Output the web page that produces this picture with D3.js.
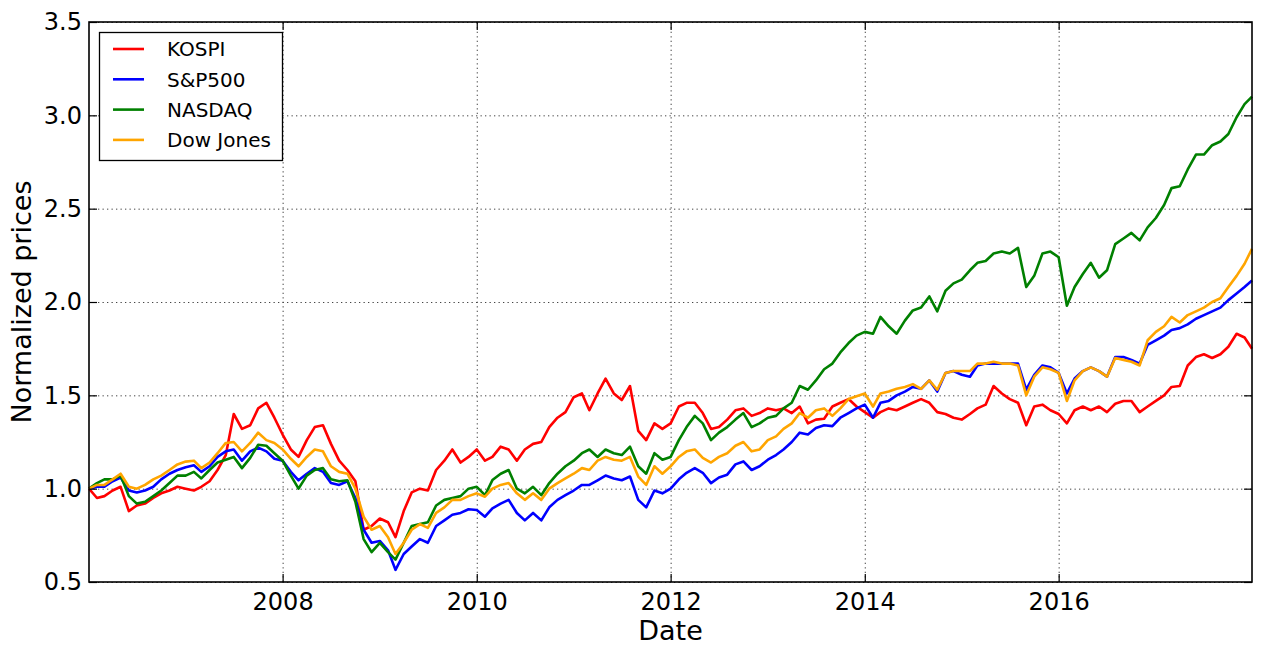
<!DOCTYPE html>
<html lang="en">
<head>
    <meta charset="utf-8">
    <title>Normalized prices</title>
    <style>
        body { margin: 0; background: #fff; }
        svg { display: block; font-family: 'DejaVu Sans', sans-serif; }
        .grid line { stroke: #444; stroke-width: 1; stroke-dasharray: 1.3,3.2; }
        .grid path { display: none; }
        .ticks path { display: none; }
        .ticks line { stroke: #000; stroke-width: 1.2; }
        .ticks text { font-size: 24px; fill: #000; }
    </style>
    <script src="https://d3js.org/d3.v7.min.js" charset="utf-8"></script>
</head>
<body>
<svg id="chart" width="1262" height="656"></svg>
<script type="text/javascript">
    // monthly readings (first trading day of each month) + last day
    var dates = [
        "2006-01-02","2006-02-01","2006-03-01","2006-04-01","2006-05-01","2006-06-01","2006-07-01","2006-08-01","2006-09-01","2006-10-01","2006-11-01","2006-12-01",
        "2007-01-01","2007-02-01","2007-03-01","2007-04-01","2007-05-01","2007-06-01","2007-07-01","2007-08-01","2007-09-01","2007-10-01","2007-11-01","2007-12-01",
        "2008-01-01","2008-02-01","2008-03-01","2008-04-01","2008-05-01","2008-06-01","2008-07-01","2008-08-01","2008-09-01","2008-10-01","2008-11-01","2008-12-01",
        "2009-01-01","2009-02-01","2009-03-01","2009-04-01","2009-05-01","2009-06-01","2009-07-01","2009-08-01","2009-09-01","2009-10-01","2009-11-01","2009-12-01",
        "2010-01-01","2010-02-01","2010-03-01","2010-04-01","2010-05-01","2010-06-01","2010-07-01","2010-08-01","2010-09-01","2010-10-01","2010-11-01","2010-12-01",
        "2011-01-01","2011-02-01","2011-03-01","2011-04-01","2011-05-01","2011-06-01","2011-07-01","2011-08-01","2011-09-01","2011-10-01","2011-11-01","2011-12-01",
        "2012-01-01","2012-02-01","2012-03-01","2012-04-01","2012-05-01","2012-06-01","2012-07-01","2012-08-01","2012-09-01","2012-10-01","2012-11-01","2012-12-01",
        "2013-01-01","2013-02-01","2013-03-01","2013-04-01","2013-05-01","2013-06-01","2013-07-01","2013-08-01","2013-09-01","2013-10-01","2013-11-01","2013-12-01",
        "2014-01-01","2014-02-01","2014-03-01","2014-04-01","2014-05-01","2014-06-01","2014-07-01","2014-08-01","2014-09-01","2014-10-01","2014-11-01","2014-12-01",
        "2015-01-01","2015-02-01","2015-03-01","2015-04-01","2015-05-01","2015-06-01","2015-07-01","2015-08-01","2015-09-01","2015-10-01","2015-11-01","2015-12-01",
        "2016-01-01","2016-02-01","2016-03-01","2016-04-01","2016-05-01","2016-06-01","2016-07-01","2016-08-01","2016-09-01","2016-10-01","2016-11-01","2016-12-01",
        "2017-01-01","2017-02-01","2017-03-01","2017-04-01","2017-05-01","2017-06-01","2017-07-01","2017-08-01","2017-09-01","2017-10-01","2017-11-01","2017-12-01",
        "2017-12-29"
    ];

    var kospi = [
        1.00, 0.95, 0.96, 0.99, 1.01, 0.88, 0.91, 0.92, 0.95, 0.975, 0.99, 1.01,
        1.00, 0.99, 1.01, 1.04, 1.10, 1.18, 1.40, 1.32, 1.34, 1.43, 1.46, 1.38,
        1.29, 1.21, 1.17, 1.26, 1.33, 1.34, 1.24, 1.15, 1.10, 1.04, 0.78, 0.80,
        0.84, 0.82, 0.74, 0.88, 0.98, 1.00, 0.99, 1.10, 1.15, 1.21, 1.14, 1.17,
        1.21, 1.15, 1.17, 1.225, 1.21, 1.15, 1.21, 1.24, 1.25, 1.33, 1.38, 1.41,
        1.49, 1.51, 1.42, 1.51, 1.59, 1.51, 1.475, 1.55, 1.31, 1.26, 1.35, 1.32,
        1.35, 1.44, 1.46, 1.46, 1.405, 1.32, 1.33, 1.37, 1.42, 1.43, 1.39, 1.405,
        1.43, 1.42, 1.43, 1.405, 1.44, 1.35, 1.37, 1.375, 1.44, 1.46, 1.48, 1.44,
        1.41, 1.38, 1.41, 1.43, 1.42, 1.44, 1.46, 1.48, 1.46, 1.41, 1.40, 1.38,
        1.37, 1.40, 1.43, 1.45, 1.55, 1.51, 1.48, 1.46, 1.34, 1.44, 1.45, 1.42,
        1.40, 1.35, 1.42, 1.44, 1.42, 1.44, 1.41, 1.455, 1.47, 1.47, 1.41, 1.44,
        1.47, 1.50, 1.545, 1.55, 1.66, 1.705, 1.72, 1.70, 1.72, 1.76, 1.83, 1.81,
        1.75
    ];

    var sp500 = [
        1.00, 1.01, 1.01, 1.04, 1.06, 0.99, 0.98, 0.99, 1.01, 1.05, 1.08, 1.10,
        1.115, 1.125, 1.09, 1.12, 1.17, 1.20, 1.21, 1.15, 1.20, 1.22, 1.20, 1.16,
        1.15, 1.09, 1.045, 1.08, 1.11, 1.09, 1.03, 1.02, 1.04, 0.95, 0.78, 0.71,
        0.72, 0.67, 0.565, 0.65, 0.69, 0.73, 0.71, 0.80, 0.83, 0.86, 0.87, 0.89,
        0.886, 0.85, 0.895, 0.92, 0.94, 0.87, 0.83, 0.87, 0.83, 0.90, 0.94, 0.965,
        0.99, 1.02, 1.02, 1.045, 1.07, 1.055, 1.045, 1.065, 0.94, 0.90, 0.99, 0.975,
        1.00, 1.05, 1.085, 1.11, 1.085, 1.03, 1.06, 1.075, 1.13, 1.146, 1.10, 1.12,
        1.155, 1.18, 1.21, 1.25, 1.30, 1.29, 1.325, 1.34, 1.335, 1.38, 1.405, 1.43,
        1.45, 1.38, 1.46, 1.47, 1.50, 1.52, 1.545, 1.535, 1.58, 1.52, 1.62, 1.63,
        1.61, 1.60, 1.66, 1.67, 1.67, 1.67, 1.67, 1.67, 1.53, 1.61, 1.66, 1.65,
        1.62, 1.51, 1.59, 1.63, 1.65, 1.63, 1.60, 1.705, 1.705, 1.69, 1.67, 1.77,
        1.795, 1.82, 1.85, 1.86, 1.88, 1.91, 1.93, 1.95, 1.97, 2.01, 2.045, 2.08,
        2.115
    ];

    var nasdaq = [
        1.00, 1.03, 1.05, 1.05, 1.07, 0.96, 0.92, 0.93, 0.96, 0.99, 1.03, 1.07,
        1.07, 1.09, 1.055, 1.10, 1.14, 1.155, 1.17, 1.11, 1.165, 1.235, 1.23, 1.19,
        1.15, 1.07, 1.00, 1.07, 1.10, 1.11, 1.05, 1.04, 1.045, 0.93, 0.73, 0.66,
        0.71, 0.66, 0.62, 0.71, 0.80, 0.81, 0.82, 0.91, 0.94, 0.95, 0.96, 1.00,
        1.01, 0.965, 1.046, 1.08, 1.10, 1.00, 0.975, 1.01, 0.965, 1.03, 1.08, 1.12,
        1.15, 1.19, 1.21, 1.17, 1.21, 1.19, 1.18, 1.225, 1.12, 1.08, 1.19, 1.155,
        1.17, 1.26, 1.33, 1.39, 1.35, 1.26, 1.30, 1.33, 1.37, 1.405, 1.33, 1.35,
        1.38, 1.39, 1.43, 1.46, 1.55, 1.53, 1.58, 1.64, 1.67, 1.73, 1.78, 1.82,
        1.84, 1.83, 1.92, 1.87, 1.83, 1.90, 1.955, 1.97, 2.03, 1.95, 2.06, 2.10,
        2.12, 2.17, 2.21, 2.22, 2.26, 2.27, 2.26, 2.29, 2.08, 2.14, 2.26, 2.27,
        2.24, 1.98, 2.08, 2.15, 2.21, 2.13, 2.17, 2.31, 2.34, 2.37, 2.33, 2.40,
        2.45, 2.52, 2.61, 2.62, 2.71, 2.79, 2.79, 2.84, 2.86, 2.90, 2.99, 3.06,
        3.10
    ];

    var dowjones = [
        1.00, 1.02, 1.02, 1.05, 1.08, 1.01, 1.00, 1.02, 1.05, 1.07, 1.10, 1.13,
        1.145, 1.15, 1.11, 1.14, 1.19, 1.245, 1.25, 1.20, 1.245, 1.30, 1.26, 1.245,
        1.21, 1.16, 1.12, 1.17, 1.21, 1.20, 1.12, 1.09, 1.08, 1.00, 0.85, 0.78,
        0.80, 0.74, 0.65, 0.71, 0.78, 0.81, 0.79, 0.87, 0.90, 0.94, 0.94, 0.96,
        0.975, 0.957, 1.00, 1.02, 1.03, 0.975, 0.94, 0.975, 0.94, 1.00, 1.03, 1.055,
        1.08, 1.11, 1.10, 1.15, 1.17, 1.155, 1.15, 1.17, 1.065, 1.02, 1.12, 1.08,
        1.12, 1.17, 1.20, 1.21, 1.165, 1.14, 1.17, 1.19, 1.23, 1.25, 1.20, 1.21,
        1.26, 1.28, 1.32, 1.35, 1.405, 1.38, 1.42, 1.43, 1.39, 1.43, 1.48, 1.495,
        1.51, 1.44, 1.51, 1.52, 1.535, 1.545, 1.56, 1.535, 1.58, 1.53, 1.62, 1.63,
        1.63, 1.63, 1.67, 1.67, 1.68, 1.67, 1.67, 1.66, 1.50, 1.60, 1.65, 1.64,
        1.62, 1.47, 1.58, 1.63, 1.65, 1.63, 1.60, 1.70, 1.69, 1.68, 1.66, 1.795,
        1.84, 1.87, 1.92, 1.89, 1.93, 1.95, 1.97, 2.00, 2.02, 2.08, 2.14, 2.205,
        2.285
    ];

    var seriesNames = ["KOSPI", "S&P500", "NASDAQ", "Dow Jones"];
    var seriesColors = ["#ff0000", "#0000ff", "#008000", "#ffa500"];
    var yTicks = [0.5, 1.0, 1.5, 2.0, 2.5, 3.0, 3.5];
    var xTickYears = [2008, 2010, 2012, 2014, 2016];

    var parse = d3.timeParse("%Y-%m-%d");
    var series = [kospi, sp500, nasdaq, dowjones].map(function(vals, i) {
        return {
            name: seriesNames[i],
            color: seriesColors[i],
            values: vals.map(function(v, j) { return { date: parse(dates[j]), value: v }; })
        };
    });

    var plotL = 89, plotR = 1252, plotT = 22, plotB = 582;
    var svg = d3.select("#chart");

    var x = d3.scaleTime()
        .domain(d3.extent(dates, function(d) { return parse(d); }))
        .range([plotL, plotR]);
    var y = d3.scaleLinear().domain([0.5, 3.5]).range([plotB, plotT]);
    var xTickDates = xTickYears.map(function(yr) { return new Date(yr, 0, 1); });

    // dotted grid
    svg.append("g").attr("class", "grid")
        .attr("transform", "translate(0," + plotB + ")")
        .call(d3.axisBottom(x).tickValues(xTickDates).tickSize(-(plotB - plotT)).tickFormat(""));
    svg.append("g").attr("class", "grid")
        .attr("transform", "translate(" + plotL + ",0)")
        .call(d3.axisLeft(y).tickValues(yTicks).tickSize(-(plotR - plotL)).tickFormat(""));

    // lines
    var line = d3.line()
        .x(function(d) { return x(d.date); })
        .y(function(d) { return y(d.value); });

    svg.selectAll(".series")
        .data(series)
        .enter().append("path")
        .attr("class", "series")
        .attr("fill", "none")
        .attr("stroke", function(d) { return d.color; })
        .attr("stroke-width", 2.6)
        .attr("stroke-linejoin", "round")
        .attr("d", function(d) { return line(d.values); });

    // ticks pointing inward, on all four sides
    svg.append("g").attr("class", "ticks")
        .attr("transform", "translate(0," + plotB + ")")
        .call(d3.axisBottom(x).tickValues(xTickDates).tickSize(-8).tickPadding(11)
            .tickFormat(d3.timeFormat("%Y")));
    svg.append("g").attr("class", "ticks")
        .attr("transform", "translate(0," + plotT + ")")
        .call(d3.axisTop(x).tickValues(xTickDates).tickSize(-8).tickFormat(""));
    svg.append("g").attr("class", "ticks")
        .attr("transform", "translate(" + plotL + ",0)")
        .call(d3.axisLeft(y).tickValues(yTicks).tickSize(-8).tickPadding(7)
            .tickFormat(d3.format(".1f")));
    svg.append("g").attr("class", "ticks")
        .attr("transform", "translate(" + plotR + ",0)")
        .call(d3.axisRight(y).tickValues(yTicks).tickSize(-8).tickFormat(""));

    svg.selectAll(".ticks text").attr("font-family", "DejaVu Sans");

    // frame
    svg.append("rect")
        .attr("x", plotL).attr("y", plotT)
        .attr("width", plotR - plotL).attr("height", plotB - plotT)
        .attr("fill", "none").attr("stroke", "#000").attr("stroke-width", 1.6);

    // axis labels
    svg.append("text")
        .attr("x", (plotL + plotR) / 2).attr("y", 640)
        .attr("text-anchor", "middle")
        .attr("font-size", 27)
        .text("Date");
    svg.append("text")
        .attr("transform", "translate(31," + (plotT + plotB) / 2 + ") rotate(-90)")
        .attr("text-anchor", "middle")
        .attr("font-size", 27)
        .text("Normalized prices");

    // legend
    var legend = svg.append("g");
    legend.append("rect")
        .attr("x", 99.5).attr("y", 32.5).attr("width", 183).attr("height", 128)
        .attr("fill", "#fff").attr("stroke", "#000").attr("stroke-width", 1.3);
    series.forEach(function(s, i) {
        var ly = 49 + i * 30.3;
        legend.append("line")
            .attr("x1", 113).attr("x2", 144).attr("y1", ly).attr("y2", ly)
            .attr("stroke", s.color).attr("stroke-width", 2.6);
        legend.append("text")
            .attr("x", 167).attr("y", ly).attr("dy", "0.36em")
            .attr("font-size", 20)
            .text(s.name);
    });
</script>
</body>
</html>
